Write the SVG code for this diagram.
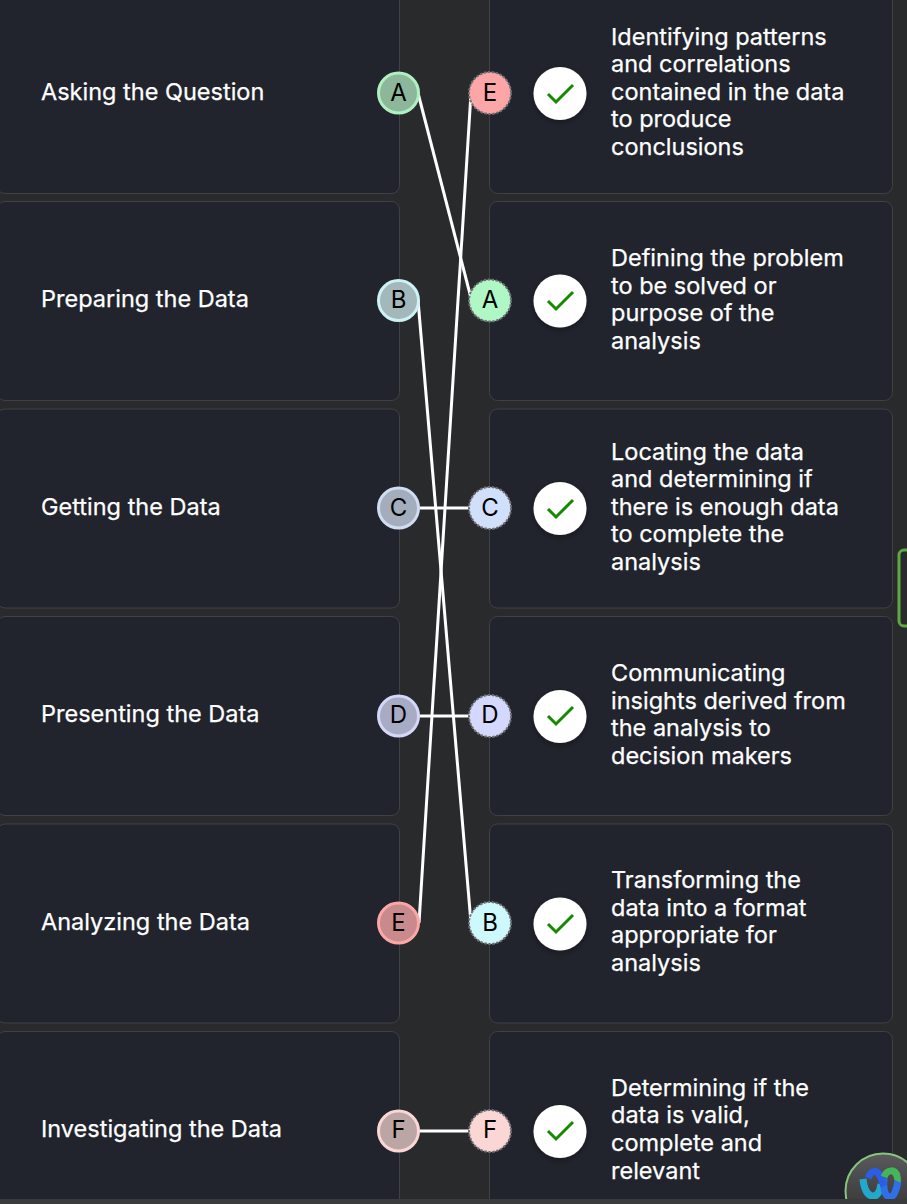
<svg xmlns="http://www.w3.org/2000/svg" width="907" height="1204" viewBox="0 0 907 1204">
<style>
.card{fill:#21242c;stroke:#3f4147;stroke-width:1}
.t{font-family:Inter,"Noto Sans",sans-serif;font-size:23.500px;fill:#fff;stroke:#fff;stroke-width:.25}
.l{font-family:Inter,"Noto Sans",sans-serif;font-size:24px;fill:#000;text-anchor:middle}
.c1{stroke-width:3}
.c2{stroke-width:2;stroke-dasharray:2.500 1.500;stroke:#6f6f75}
.w{fill:#fff;filter:url(#s)}
.ck{fill:none;stroke:#158a00;stroke-width:3}
.cn{stroke:#fff;stroke-width:3;fill:none}
</style>
<defs><filter id="s" x="-30%" y="-30%" width="160%" height="160%"><feDropShadow dx="0" dy="2" stdDeviation="3" flood-color="#000" flood-opacity=".35"/></filter>
<linearGradient id="wg" x1="0" y1="0" x2="0" y2="1"><stop offset="0" stop-color="#5a5a5c"/><stop offset="1" stop-color="#2c2c2e"/></linearGradient></defs>
<rect width="907" height="1204" fill="#292a2c"/>
<g id="left-cards">
<rect class="card" x="-3" y="-20" width="402.500" height="213.500" rx="8"/>
<rect class="card" x="-3" y="201.500" width="402.500" height="199" rx="8"/>
<rect class="card" x="-3" y="409" width="402.500" height="199" rx="8"/>
<rect class="card" x="-3" y="616.500" width="402.500" height="199" rx="8"/>
<rect class="card" x="-3" y="824" width="402.500" height="199" rx="8"/>
<rect class="card" x="-3" y="1031.500" width="402.500" height="199" rx="8"/>
</g>
<g id="right-cards">
<rect class="card" x="489.500" y="-20" width="403" height="213.500" rx="8"/>
<rect class="card" x="489.500" y="201.500" width="403" height="199" rx="8"/>
<rect class="card" x="489.500" y="409" width="403" height="199" rx="8"/>
<rect class="card" x="489.500" y="616.500" width="403" height="199" rx="8"/>
<rect class="card" x="489.500" y="824" width="403" height="199" rx="8"/>
<rect class="card" x="489.500" y="1031.500" width="403" height="199" rx="8"/>
</g>
<g id="connectors" class="cn">
<line x1="418" y1="93" x2="471" y2="298"/>
<line x1="418" y1="300" x2="471" y2="923"/>
<line x1="418" y1="508" x2="471" y2="508"/>
<line x1="418" y1="716" x2="471" y2="716"/>
<line x1="419" y1="923" x2="471" y2="93"/>
<line x1="418" y1="1131" x2="471" y2="1131"/>
</g>
<g id="q1"><text class="t" x="41" y="100">Asking the Question</text><circle class="c1" cx="398.500" cy="93" r="20" fill="#8db79a" stroke="#b0efc2"/><text class="l" x="398.500" y="101">A</text></g>
<g id="q2"><text class="t" x="41" y="307">Preparing the Data</text><circle class="c1" cx="398.500" cy="300.500" r="20" fill="#a3b8ba" stroke="#cdf2f5"/><text class="l" x="398.500" y="308">B</text></g>
<g id="q3"><text class="t" x="41" y="515">Getting the Data</text><circle class="c1" cx="398.500" cy="508" r="20" fill="#a4adbc" stroke="#d0dcf2"/><text class="l" x="398.500" y="516">C</text></g>
<g id="q4"><text class="t" x="41" y="722">Presenting the Data</text><circle class="c1" cx="398.500" cy="716" r="20" fill="#a8abc4" stroke="#d4d7f8"/><text class="l" x="398.500" y="723">D</text></g>
<g id="q5"><text class="t" x="41" y="930">Analyzing the Data</text><circle class="c1" cx="398.500" cy="923" r="20" fill="#c88a8c" stroke="#fca6a8"/><text class="l" x="398.500" y="931">E</text></g>
<g id="q6"><text class="t" x="41" y="1137">Investigating the Data</text><circle class="c1" cx="398.500" cy="1131" r="20" fill="#bba6a5" stroke="#fad6d4"/><text class="l" x="398.500" y="1138">F</text></g>
<g id="a1"><circle class="c2" cx="490" cy="93" r="21" fill="#fca6a8"/><text class="l" x="490" y="101">E</text><circle class="w" cx="560" cy="93.500" r="26.500"/><path class="ck" d="M548 94l8 8 17-17"/>
<text class="t" x="611" y="45">Identifying patterns</text><text class="t" x="611" y="72">and correlations</text><text class="t" x="611" y="100">contained in the data</text><text class="t" x="611" y="127">to produce</text><text class="t" x="611" y="155">conclusions</text></g>
<g id="a2"><circle class="c2" cx="490" cy="300.500" r="21" fill="#b0f7c6"/><text class="l" x="490" y="308">A</text><circle class="w" cx="560" cy="301" r="26.500"/><path class="ck" d="M548 301l8 8 17-17"/>
<text class="t" x="611" y="266">Defining the problem</text><text class="t" x="611" y="294">to be solved or</text><text class="t" x="611" y="321">purpose of the</text><text class="t" x="611" y="349">analysis</text></g>
<g id="a3"><circle class="c2" cx="490" cy="508" r="21" fill="#d0dffa"/><text class="l" x="490" y="516">C</text><circle class="w" cx="560" cy="508.500" r="26.500"/><path class="ck" d="M548 509l8 8 17-17"/>
<text class="t" x="611" y="460">Locating the data</text><text class="t" x="611" y="487">and determining if</text><text class="t" x="611" y="515">there is enough data</text><text class="t" x="611" y="542">to complete the</text><text class="t" x="611" y="570">analysis</text></g>
<g id="a4"><circle class="c2" cx="490" cy="716" r="21" fill="#d4d8fc"/><text class="l" x="490" y="723">D</text><circle class="w" cx="560" cy="716.500" r="26.500"/><path class="ck" d="M548 716l8 8 17-17"/>
<text class="t" x="611" y="681">Communicating</text><text class="t" x="611" y="709">insights derived from</text><text class="t" x="611" y="736">the analysis to</text><text class="t" x="611" y="764">decision makers</text></g>
<g id="a5"><circle class="c2" cx="490" cy="923" r="21" fill="#cdf8fc"/><text class="l" x="490" y="931">B</text><circle class="w" cx="560" cy="924" r="26.500"/><path class="ck" d="M548 924l8 8 17-17"/>
<text class="t" x="611" y="888">Transforming the</text><text class="t" x="611" y="916">data into a format</text><text class="t" x="611" y="943">appropriate for</text><text class="t" x="611" y="971">analysis</text></g>
<g id="a6"><circle class="c2" cx="490" cy="1131" r="21" fill="#fad6d4"/><text class="l" x="490" y="1138">F</text><circle class="w" cx="560" cy="1131.500" r="26.500"/><path class="ck" d="M548 1131l8 8 17-17"/>
<text class="t" x="611" y="1096">Determining if the</text><text class="t" x="611" y="1123">data is valid,</text><text class="t" x="611" y="1151">complete and</text><text class="t" x="611" y="1179">relevant</text></g>
<rect x="899" y="550" width="14" height="76" rx="5" fill="none" stroke="#5fa845" stroke-width="3"/>
<g id="logo">
<circle cx="883" cy="1191" r="37.500" fill="url(#wg)" stroke="#86c77a" stroke-width="2"/>
<path d="M863 1179c1 9 4 16 9 17 6 1 8-6 9-12" fill="none" stroke="#22a8cc" stroke-width="7"/>
<path d="M884 1178c-1 8 0 17 5 19 5 1 8-8 9-17" fill="none" stroke="#2f6fe8" stroke-width="7"/>
<path d="M868 1178c4-9 9-8 12-2 2 4 3 8 4 10" fill="none" stroke="#2a5de8" stroke-width="7"/>
<path d="M884 1177c3-8 11-8 13-1 1 3 0 5 0 5" fill="none" stroke="#45b55a" stroke-width="7"/>
</g>
<rect x="0" y="1199" width="907" height="5" fill="#3a3b3d"/>
</svg>
